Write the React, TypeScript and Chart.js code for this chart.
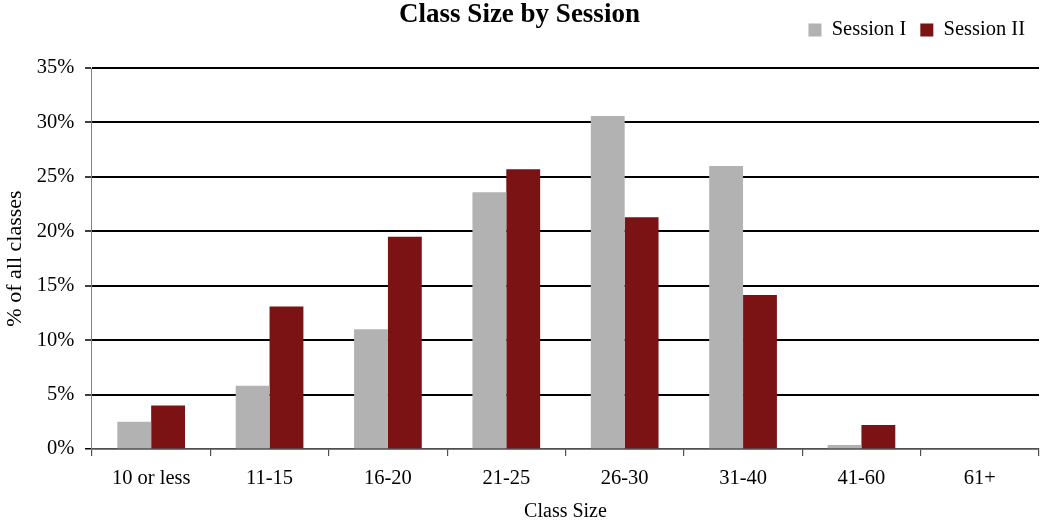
import React, { useEffect, useRef } from "react";
import { Chart, registerables } from "chart.js";

Chart.register(...registerables);

const categories = ["10 or less", "11-15", "16-20", "21-25", "26-30", "31-40", "41-60", "61+"];
const sessionI = [2.5, 5.8, 11.0, 23.6, 30.6, 26.0, 0.37, 0];
const sessionII = [4.0, 13.1, 19.5, 25.7, 21.3, 14.15, 2.2, 0];
const seriesNames = ["Session I", "Session II"];
const seriesColors = ["#B2B2B2", "#7B1315"];
const yMax = 35;
const yStep = 5;

const FONT = "'Liberation Serif', 'Times New Roman', Times, serif";

export default function App() {
  const ref = useRef<HTMLCanvasElement | null>(null);

  useEffect(() => {
    document.body.style.margin = "0";
    const canvas = ref.current;
    if (!canvas) return;
    const chart = new Chart(canvas, {
      type: "bar",
      data: {
        labels: categories,
        datasets: [
          { label: seriesNames[0], data: sessionI, backgroundColor: seriesColors[0], borderWidth: 0 },
          { label: seriesNames[1], data: sessionII, backgroundColor: seriesColors[1], borderWidth: 0 },
        ],
      },
      options: {
        animation: false,
        responsive: true,
        maintainAspectRatio: false,
        layout: { padding: { top: 5.75, right: 8, bottom: 0, left: 0 } },
        datasets: { bar: { categoryPercentage: 0.572, barPercentage: 1.0 } },
        plugins: {
          tooltip: { enabled: false },
          legend: {
            display: true,
            position: "top",
            align: "end",
            labels: {
              boxWidth: 13,
              boxHeight: 13,
              padding: 14,
              color: "#000",
              font: { family: FONT, size: 20.5 },
            },
          },
          title: {
            display: true,
            text: "Class Size by Session",
            color: "#000",
            weight: 500,
            font: { family: FONT, size: 27, weight: "bold", lineHeight: 1.1 },
            padding: { top: -50.35, bottom: 38.45 },
          } as any,
        },
        scales: {
          x: {
            type: "category",
            grid: {
              display: true,
              drawOnChartArea: false,
              drawTicks: true,
              tickLength: 7,
              color: "#505050",
              lineWidth: 1.2,
              offset: true,
            },
            border: { display: true, color: "#505050", width: 1.5 },
            ticks: {
              color: "#000",
              padding: 10.7,
              maxRotation: 0,
              autoSkip: false,
              font: { family: FONT, size: 20.5, lineHeight: 1.2 },
            },
            title: {
              display: true,
              text: "Class Size",
              color: "#000",
              font: { family: FONT, size: 20, lineHeight: 1.0 },
              padding: { top: 0, bottom: 1 },
            },
          },
          y: {
            type: "linear",
            min: 0,
            max: yMax,
            grid: {
              display: true,
              drawTicks: true,
              tickLength: 7,
              color: (ctx: any) => (ctx.tick && ctx.tick.value === 0 ? "#505050" : "#000"),
              lineWidth: (ctx: any) => (ctx.tick && ctx.tick.value === 0 ? 1.5 : 2),
              tickColor: "#000",
              tickWidth: 1.5,
            },
            border: { display: true, color: "#808080", width: 1 },
            ticks: {
              stepSize: yStep,
              color: "#000",
              padding: 10.7,
              font: { family: FONT, size: 20.5, lineHeight: 1.2 },
              callback: (v: any) => `${v}%`,
            },
            title: {
              display: true,
              text: "% of all classes",
              color: "#000",
              font: { family: FONT, size: 22, lineHeight: 1.0 },
              padding: { top: 4, bottom: 0 },
            },
          },
        },
      },
    });
    return () => chart.destroy();
  }, []);

  return (
    <div style={{ width: "1047px", height: "523px", position: "relative" }}>
      <canvas ref={ref} />
    </div>
  );
}
